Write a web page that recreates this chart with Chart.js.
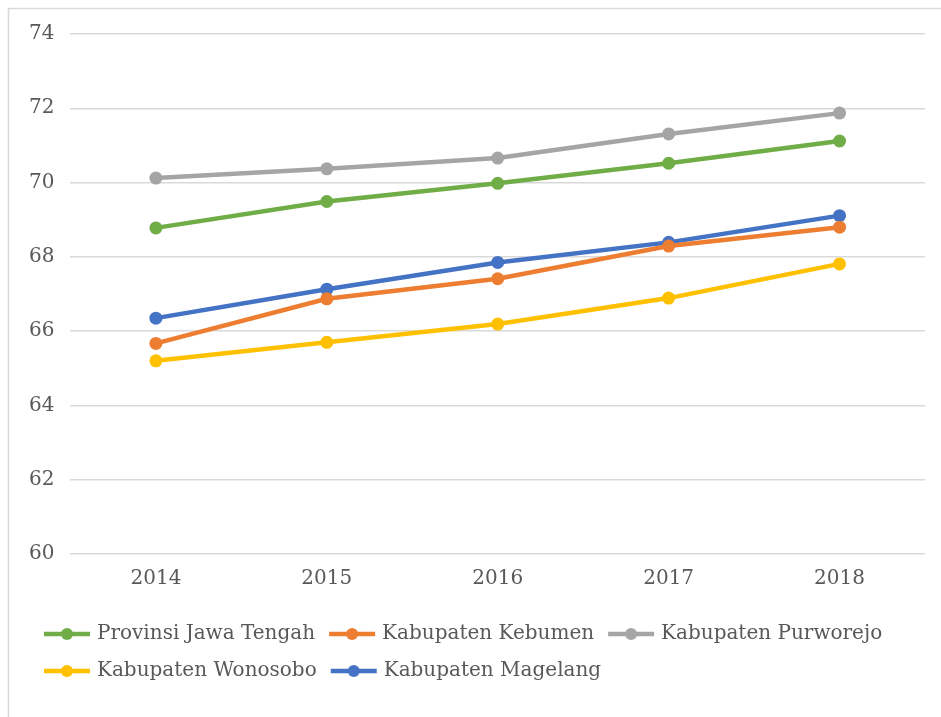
<!DOCTYPE html>
<html>
<head>
<meta charset="utf-8">
<script src="https://cdn.jsdelivr.net/npm/chart.js@4/dist/chart.umd.min.js"></script>
<style>
  html, body { margin: 0; padding: 0; background: #fff; overflow: hidden; }
  #wrap { position: absolute; left: 0; top: 0; width: 941px; height: 717px; }
</style>
</head>
<body>
<div id="wrap"><canvas id="chart"></canvas></div>
<script>
const years = ['2014', '2015', '2016', '2017', '2018'];
const seriesNames = ['Provinsi Jawa Tengah', 'Kabupaten Kebumen', 'Kabupaten Purworejo', 'Kabupaten Wonosobo', 'Kabupaten Magelang'];
const jawaTengah = [68.78, 69.49, 69.98, 70.52, 71.12];
const kebumen = [65.67, 66.87, 67.41, 68.29, 68.80];
const purworejo = [70.12, 70.37, 70.66, 71.31, 71.87];
const wonosobo = [65.20, 65.70, 66.19, 66.89, 67.81];
const magelang = [66.35, 67.13, 67.85, 68.39, 69.11];
const colors = ['#70ad47', '#ed7d31', '#a5a5a5', '#ffc000', '#4472c4'];
const yTicks = [60, 62, 64, 66, 68, 70, 72, 74];

const FONT = '"DejaVu Serif", "Liberation Serif", serif';
const values = [jawaTengah, kebumen, purworejo, wonosobo, magelang];

// legend marker: short line with a dot on it
function legendMarker(color) {
    const c = document.createElement('canvas');
    c.width = 50;
    c.height = 14;
    const g = c.getContext('2d');
    g.strokeStyle = color;
    g.lineWidth = 4.5;
    g.beginPath();
    g.moveTo(2, 7);
    g.lineTo(48, 7);
    g.stroke();
    g.fillStyle = color;
    g.beginPath();
    g.arc(25, 7, 6, 0, Math.PI * 2);
    g.fill();
    return c;
}

const frame = {
    id: 'frame',
    beforeDraw(chart) {
        const ctx = chart.ctx;
        ctx.save();
        ctx.strokeStyle = '#d9d9d9';
        ctx.lineWidth = 1.5;
        ctx.strokeRect(8.5, 8.5, 1000, 1000);
        ctx.restore();
    }
};

// push the legend a bit to the right, like the original
const legendShift = {
    id: 'legendShift',
    afterLayout(chart) {
        chart.legend.left += 17;
        chart.legend.right += 17;
    }
};

new Chart(document.getElementById('chart').getContext('2d'), {
    type: 'line',
    data: {
        labels: years,
        datasets: seriesNames.map((name, i) => ({
            label: name,
            data: values[i],
            borderColor: colors[i],
            backgroundColor: colors[i],
            borderWidth: 4.5,
            pointRadius: 6.5,
            pointHoverRadius: 6.5,
            pointBorderWidth: 0,
            tension: 0
        }))
    },
    options: {
        responsive: true,
        maintainAspectRatio: false,
        animation: false,
        layout: { padding: { left: 13, right: 16, top: 34, bottom: 26 } },
        plugins: {
            tooltip: { enabled: false },
            legend: {
                position: 'bottom',
                align: 'start',
                labels: {
                    usePointStyle: true,
                    pointStyleWidth: 40,
                    padding: 17,
                    color: '#595959',
                    font: { family: FONT, size: 20 },
                    generateLabels(chart) {
                        return chart.data.datasets.map((ds, i) => ({
                            text: ds.label,
                            datasetIndex: i,
                            pointStyle: legendMarker(colors[i]),
                            fontColor: '#595959',
                            strokeStyle: colors[i],
                            fillStyle: colors[i],
                            lineWidth: 0
                        }));
                    }
                }
            }
        },
        scales: {
            x: {
                offset: true,
                grid: { display: false },
                border: { display: false },
                ticks: { color: '#595959', font: { family: FONT, size: 20 }, padding: 5 },
                afterFit(scale) { scale.height += 11; }
            },
            y: {
                min: yTicks[0],
                max: yTicks[yTicks.length - 1],
                afterBuildTicks(axis) { axis.ticks = yTicks.map(v => ({ value: v })); },
                grid: { color: '#d9d9d9', lineWidth: 1.5, drawTicks: false },
                border: { display: false },
                ticks: { color: '#595959', font: { family: FONT, size: 20 }, padding: 16 }
            }
        }
    },
    plugins: [frame, legendShift]
});
</script>
</body>
</html>
